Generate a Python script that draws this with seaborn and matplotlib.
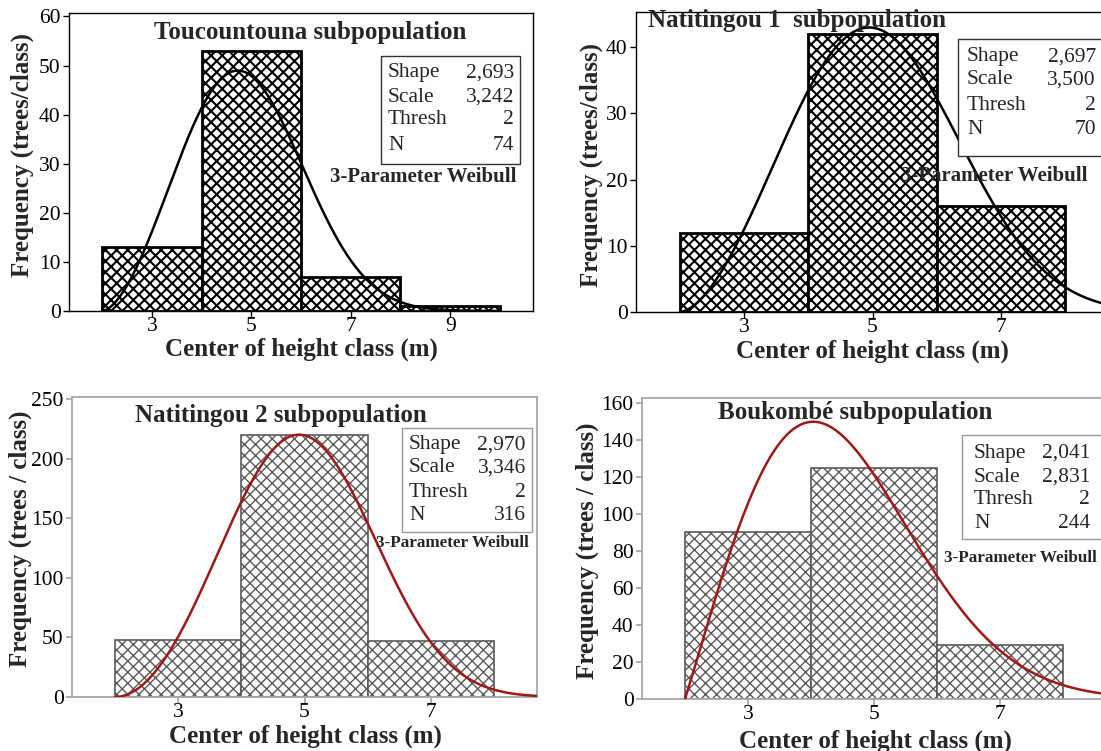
import numpy as np
import matplotlib
matplotlib.use("Agg")
import matplotlib.pyplot as plt
from matplotlib.patches import Rectangle
import seaborn as sns

# height classes (m): bin edges and class centres
edges_a = [2, 4, 6, 8, 10]
centres_a = [3, 5, 7, 9]
edges_b = [2, 4, 6, 8]
centres_b = [3, 5, 7]

# trees per class
tou_counts = [13, 53, 7, 1]
nat1_counts = [12, 42, 16]
nat2_counts = [48, 220, 47]
bou_counts = [90, 125, 29]

# fitted 3-parameter Weibull (shape, scale, thresh, N)
tou_fit = [2.693, 3.242, 2, 74]
nat1_fit = [2.697, 3.500, 2, 70]
nat2_fit = [2.970, 3.346, 2, 316]
bou_fit = [2.041, 2.831, 2, 244]

tou_stats = ["2,693", "3,242", "2", "74"]
nat1_stats = ["2,697", "3,500", "2", "70"]
nat2_stats = ["2,970", "3,346", "2", "316"]
bou_stats = ["2,041", "2,831", "2", "244"]
stat_names = ["Shape", "Scale", "Thresh", "N"]

W, H = 1101, 751
sns.set_style("white")
plt.rcParams["font.family"] = ["Liberation Serif", "DejaVu Serif"]

fig = plt.figure(figsize=(W / 100, H / 100), dpi=100)


def fx(x):
    return x / W


def fy(y):
    return 1 - y / H


def weibull_curve(x, fit, width=2):
    k, lam, th, n = fit
    z = np.clip((x - th) / lam, 0, None)
    return n * width * (k / lam) * z ** (k - 1) * np.exp(-z ** k)


def panel(rect, edges, centres, counts, fit, xlim, ylim, yticks, style, x_end):
    left, top, right, bottom = rect
    ax = fig.add_axes([fx(left), fy(bottom), fx(right - left), (bottom - top) / H])
    if style == "bw":
        edge, blw, hlw, spine_c, curve_c, slw = "black", 2.0, 1.5, "black", "black", 1.0
    else:
        edge, blw, hlw, spine_c, curve_c, slw = "#5a5a5a", 1.2, 1.0, "#a8a8a8", "#a01818", 1.3

    sns.histplot(x=centres, weights=counts, bins=edges, ax=ax, stat="count",
                 color="white", edgecolor=edge, linewidth=blw, hatch="xxx",
                 alpha=1, zorder=2)
    for p in ax.patches:
        if hasattr(p, "set_hatch_linewidth"):
            p.set_hatch_linewidth(hlw)

    xs = np.linspace(2, x_end, 400)
    sns.lineplot(x=xs, y=weibull_curve(xs, fit), ax=ax, color=curve_c,
                 linewidth=1.8, zorder=3)

    ax.set_xlim(*xlim)
    ax.set_ylim(*ylim)
    ax.set_xticks(centres)
    ax.set_yticks(yticks)
    ax.set_xlabel("")
    ax.set_ylabel("")
    for s in ax.spines.values():
        s.set_color(spine_c)
        s.set_linewidth(slw)
    ax.tick_params(axis="both", direction="out", length=4, width=slw,
                   color=spine_c, labelsize=15.5, labelcolor="black", pad=2)
    ax.tick_params(axis="x", pad=0)
    ax.tick_params(axis="both", top=False, right=False, bottom=True, left=True)
    return ax


def stats_box(box, rows_y, lab_x, val_x, stats, color):
    x0, y0, x1, y1 = box
    fig.add_artist(Rectangle((fx(x0), fy(y1)), fx(x1 - x0), (y1 - y0) / H,
                             transform=fig.transFigure, facecolor="white",
                             edgecolor=color, linewidth=1.0, zorder=5))
    for name, val, ry in zip(stat_names, stats, rows_y):
        fig.text(fx(lab_x), fy(ry), name, ha="left", va="center", fontsize=15.5, zorder=6)
        fig.text(fx(val_x), fy(ry), val, ha="right", va="center", fontsize=15.5, zorder=6)


bold = dict(fontweight="bold", ha="center", va="center")
TS = 18
LS = 18

# Toucountouna
panel((69, 13, 533, 311), edges_a, centres_a, tou_counts, tou_fit,
      (1.336, 10.664), (0, 60.7), [0, 10, 20, 30, 40, 50, 60], "bw", 10)
fig.text(fx(310), fy(32), "Toucountouna subpopulation", fontsize=TS, **bold)
stats_box((381, 56, 520, 164), [73, 97, 120, 145], 388, 514, tou_stats, "#333333")
fig.text(fx(516), fy(177), "3-Parameter Weibull", fontsize=15, fontweight="bold",
         ha="right", va="center")
fig.text(fx(22), fy(155), "Frequency (trees/class)", rotation=90, fontsize=LS, **bold)
fig.text(fx(301), fy(349), "Center of height class (m)", fontsize=LS, **bold)

# Natitingou 1
panel((636, 12, 1109, 312), edges_b, centres_b, nat1_counts, nat1_fit,
      (1.32, 8.68), (0, 45.3), [0, 10, 20, 30, 40], "bw", 8.68)
fig.text(fx(648), fy(21), "Natitingou 1  subpopulation", fontsize=TS,
         fontweight="bold", ha="left", va="center")
stats_box((958, 39, 1120, 156), [57, 80, 105, 129], 967, 1096, nat1_stats, "#333333")
fig.text(fx(901), fy(176), "3-Parameter Weibull", fontsize=15, fontweight="bold",
         ha="left", va="center")
fig.text(fx(591), fy(165), "Frequency (trees/class)", rotation=90, fontsize=LS, **bold)
fig.text(fx(872), fy(351), "Center of height class (m)", fontsize=LS, **bold)

# Natitingou 2
panel((72, 397, 537, 697), edges_b, centres_b, nat2_counts, nat2_fit,
      (1.32, 8.68), (0, 251.7), [0, 50, 100, 150, 200, 250], "grey", 8.68)
fig.text(fx(281), fy(416), "Natitingou 2 subpopulation", fontsize=TS, **bold)
stats_box((402, 428, 532, 532), [445, 468, 493, 516], 409, 526, nat2_stats, "#999999")
fig.text(fx(529), fy(543), "3-Parameter Weibull", fontsize=12.3, fontweight="bold",
         ha="right", va="center")
fig.text(fx(20), fy(539), "Frequency (trees / class)", rotation=90, fontsize=LS, **bold)
fig.text(fx(305), fy(736), "Center of height class (m)", fontsize=LS, **bold)

# Boukombe
panel((642, 398, 1106, 699), edges_b, centres_b, bou_counts, bou_fit,
      (1.32, 8.68), (0, 162.7), [0, 20, 40, 60, 80, 100, 120, 140, 160], "grey", 8.68)
fig.text(fx(855), fy(412), "Boukombé subpopulation", fontsize=TS, **bold)
stats_box((962, 435, 1120, 539), [453, 477, 499, 523], 974, 1090, bou_stats, "#999999")
fig.text(fx(944), fy(558), "3-Parameter Weibull", fontsize=12.3, fontweight="bold",
         ha="left", va="center")
fig.text(fx(587), fy(551), "Frequency (trees / class)", rotation=90, fontsize=LS, **bold)
fig.text(fx(875), fy(741), "Center of height class (m)", fontsize=LS, **bold)

fig.savefig("out.png", dpi=100)
